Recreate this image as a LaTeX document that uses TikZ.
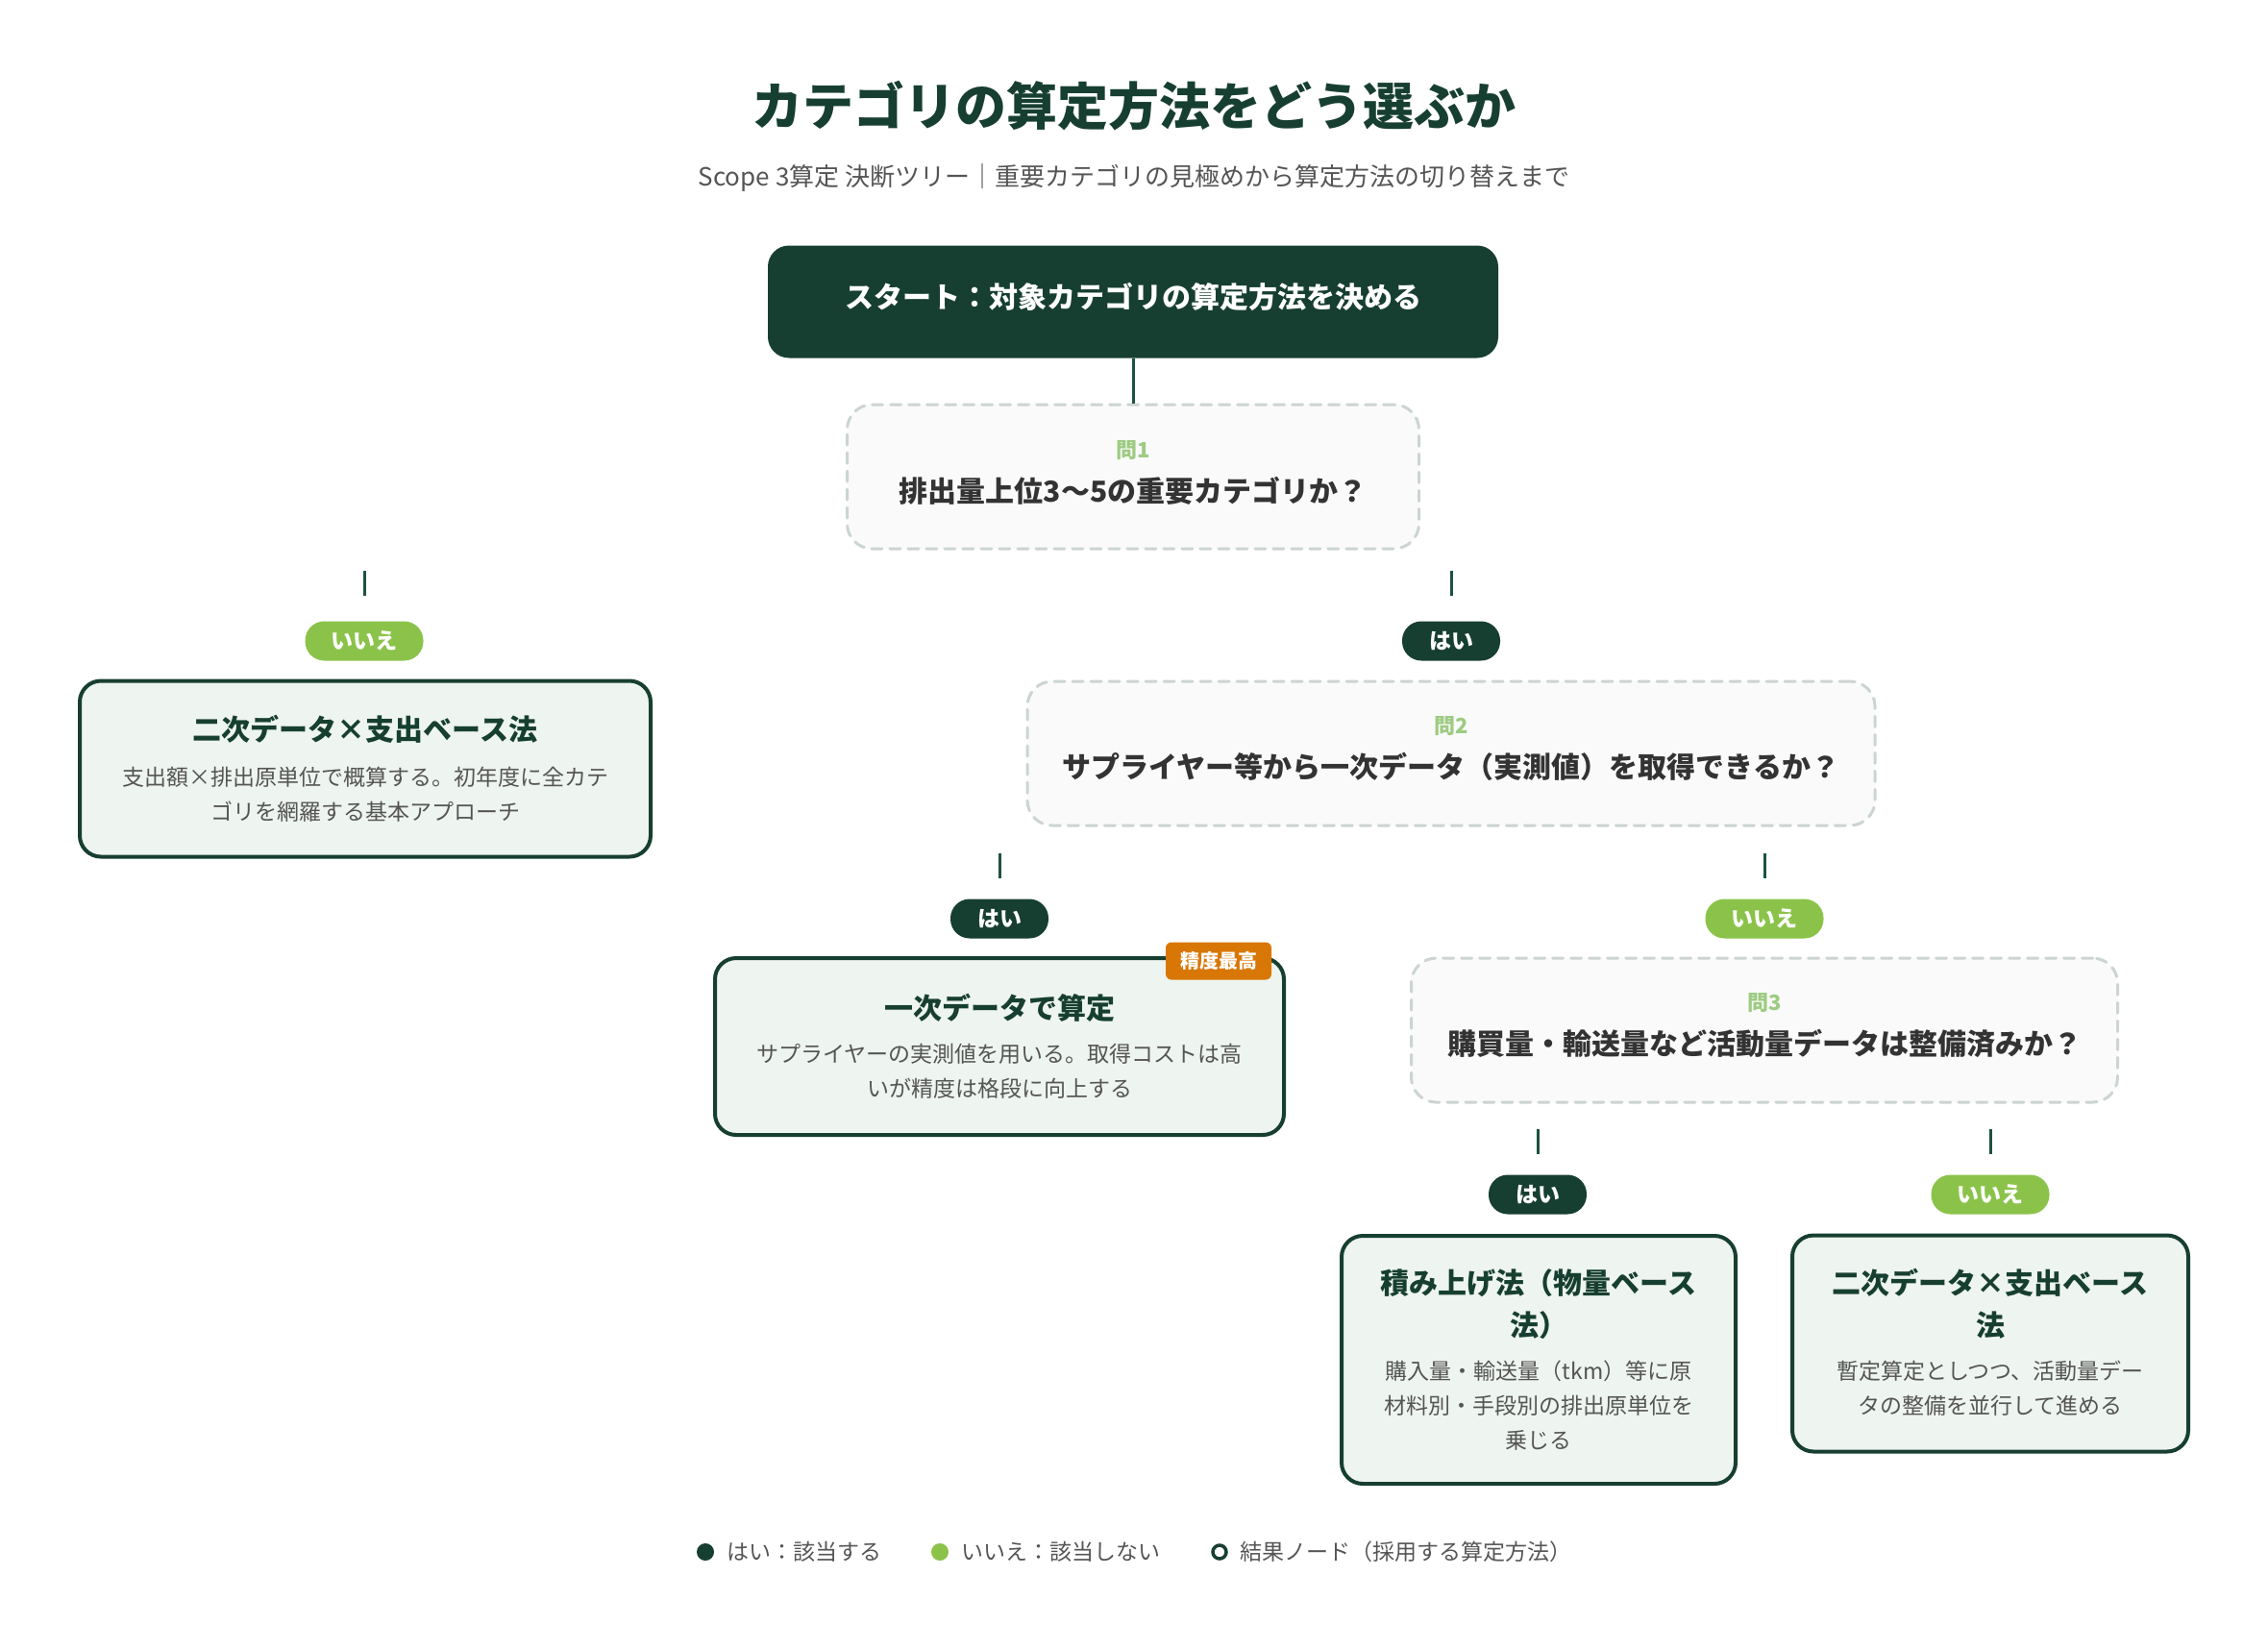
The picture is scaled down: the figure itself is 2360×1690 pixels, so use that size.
\documentclass[tikz,border=0pt]{standalone}
\usepackage{fontspec}
\setmainfont{Noto Sans CJK JP}
\usepackage{tikz}

\begin{document}
\begin{tikzpicture}
		[x=1pt,y=-1pt,line cap=round,
		%Styles
		start box/.style={fill=darkgreen,rounded corners=22pt,minimum width=760pt,minimum height=117pt,text height=26pt,text depth=13pt,text=white,font=\fontsize{30}{36}\selectfont\bfseries},
		question box/.style={draw=dashgray,line width=3pt,dash pattern=on 11pt off 8pt,fill=questionfill,rounded corners=26pt,minimum height=150pt},
		question text/.style={align=center,text=questiongray,font=\fontsize{30}{42}\selectfont\bfseries},
		result box/.style={draw=darkgreen,line width=4pt,fill=resultfill,rounded corners=22pt},
		result text/.style={align=center,text=descgray,font=\fontsize{23}{36}\selectfont},
		yes badge/.style={fill=darkgreen,rounded corners=20pt,minimum width=102pt,minimum height=41pt,inner sep=0pt,text=white,font=\fontsize{23}{23}\selectfont\bfseries},
		no badge/.style={yes badge,fill=nogreen,minimum width=123pt},
		link/.style={draw=stubgreen,line width=3pt,line cap=butt},
		legend text/.style={anchor=west,text=descgray,font=\fontsize{23}{23}\selectfont}
		]
		
		%Colors
		\definecolor{darkgreen}{HTML}{173F31}
		\definecolor{stubgreen}{HTML}{1D5240}
		\definecolor{nogreen}{HTML}{8BC34A}
		\definecolor{qnumgreen}{HTML}{9ECB82}
		\definecolor{dashgray}{HTML}{CCD5D0}
		\definecolor{questionfill}{HTML}{F9FAF9}
		\definecolor{resultfill}{HTML}{EEF4EF}
		\definecolor{questiongray}{HTML}{333333}
		\definecolor{descgray}{HTML}{555555}
		\definecolor{tagorange}{HTML}{D97706}
		
		\useasboundingbox[fill=white] (0,0) rectangle (2360,1690);
		
		%Heading
		\node[text=darkgreen,font=\fontsize{53}{60}\selectfont\bfseries] (title) at (1180,110) {カテゴリの算定方法をどう選ぶか};
		\node[text=descgray,font=\fontsize{26}{30}\selectfont] (subtitle) at (1180,185) {Scope 3算定 決断ツリー｜重要カテゴリの見極めから算定方法の切り替えまで};
		
		%Start and question 1
		\node[start box] (start) at (1179,314) {スタート：対象カテゴリの算定方法を決める};
		\node[question box,minimum width=595pt] (q1) at (1179,496) {};
		\node[question text] (q1text) at (1179,492) {{\fontsize{22}{22}\selectfont\color{qnumgreen}問1}\\[4pt]排出量上位3～5の重要カテゴリか？};
		\draw[link] (start.south) -- (q1.north);
		
		%Answers to question 1
		\node[no badge] (no1) at (379,667) {いいえ};
		\node[yes badge] (yes1) at (1510,667) {はい};
		\draw[link] ([yshift=52pt]no1.north) -- ([yshift=26pt]no1.north);
		\draw[link] ([yshift=52pt]yes1.north) -- ([yshift=26pt]yes1.north);
		
		\node[result box,minimum width=594pt,minimum height=183pt] (spend1) at (380,800) {};
		\node[result text] (spend1text) at (380,800) {{\fontsize{30}{30}\selectfont\bfseries\color{darkgreen}二次データ×支出ベース法}\\[11pt]支出額×排出原単位で概算する。初年度に全カテ\\ゴリを網羅する基本アプローチ};
		
		%Question 2
		\node[question box,minimum width=882pt] (q2) at (1510,784) {};
		\node[question text] (q2text) at (1510,779) {{\fontsize{22}{22}\selectfont\color{qnumgreen}問2}\\[4pt]サプライヤー等から一次データ（実測値）を取得できるか？};
		
		\node[yes badge] (yes2) at (1040,956) {はい};
		\node[no badge] (no2) at (1836,956) {いいえ};
		\draw[link] ([yshift=47pt]yes2.north) -- ([yshift=21pt]yes2.north);
		\draw[link] ([yshift=47pt]no2.north) -- ([yshift=21pt]no2.north);
		
		\node[result box,minimum width=592pt,minimum height=184pt] (primary) at (1040,1089) {};
		\node[result text] (primarytext) at (1040,1089) {{\fontsize{30}{30}\selectfont\bfseries\color{darkgreen}一次データで算定}\\[9pt]サプライヤーの実測値を用いる。取得コストは高\\いが精度は格段に向上する};
		\node[fill=tagorange,rounded corners=6pt,minimum width=110pt,minimum height=39pt,inner sep=0pt,text=white,font=\fontsize{20}{20}\selectfont\bfseries] (tag) at (1268,1000) {精度最高};
		
		%Question 3
		\node[question box,minimum width=735pt] (q3) at (1836,1072) {};
		\node[question text] (q3text) at (1836,1067) {{\fontsize{22}{22}\selectfont\color{qnumgreen}問3}\\[4pt]購買量・輸送量など活動量データは整備済みか？};
		
		\node[yes badge] (yes3) at (1600,1243) {はい};
		\node[no badge] (no3) at (2071,1243) {いいえ};
		\draw[link] ([yshift=47pt]yes3.north) -- ([yshift=21pt]yes3.north);
		\draw[link] ([yshift=47pt]no3.north) -- ([yshift=21pt]no3.north);
		
		\node[result box,minimum width=410pt,minimum height=258pt] (bottomup) at (1601,1415) {};
		\node[result text] (bottomuptext) at (1601,1415) {{\fontsize{30}{30}\selectfont\bfseries\color{darkgreen}積み上げ法（物量ベース}\\[7.5pt]{\fontsize{30}{30}\selectfont\bfseries\color{darkgreen}法）}\\[9pt]購入量・輸送量（tkm）等に原\\材料別・手段別の排出原単位を\\乗じる};
		
		\node[result box,minimum width=412pt,minimum height=225pt] (spend2) at (2071,1398) {};
		\node[result text] (spend2text) at (2071,1397) {{\fontsize{30}{30}\selectfont\bfseries\color{darkgreen}二次データ×支出ベース}\\[7.5pt]{\fontsize{30}{30}\selectfont\bfseries\color{darkgreen}法}\\[9pt]暫定算定としつつ、活動量デー\\タの整備を並行して進める};
		
		%Legend
		\fill[darkgreen] (734,1615) circle (9pt);
		\node[legend text] (legyes) at (753,1615) {はい：該当する};
		\fill[nogreen] (978,1615) circle (9pt);
		\node[legend text] (legno) at (997,1615) {いいえ：該当しない};
		\draw[darkgreen,line width=3.5pt] (1269,1615) circle (7pt);
		\node[legend text] (legresult) at (1287,1615) {結果ノード（採用する算定方法）};
	\end{tikzpicture}
\end{document}
